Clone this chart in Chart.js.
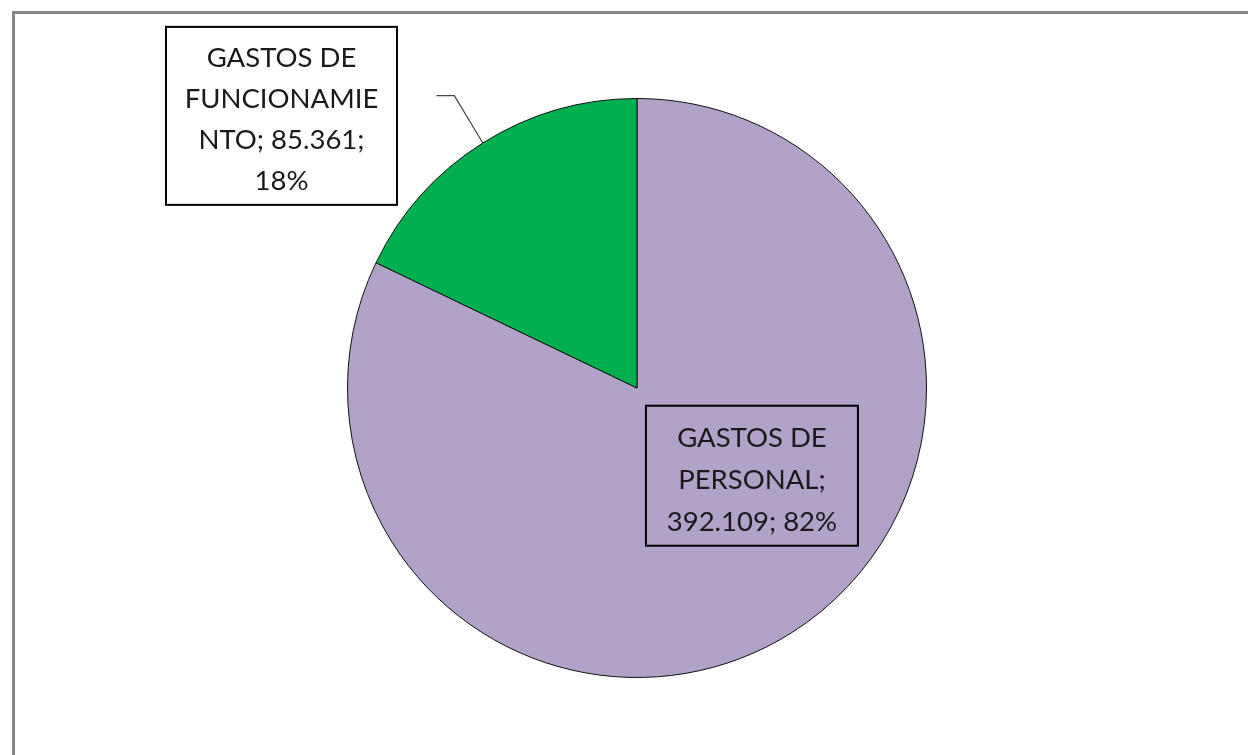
<!DOCTYPE html>
<html>
<head>
<meta charset="utf-8">
<script src="https://cdn.jsdelivr.net/npm/chart.js@4"></script>
<style>
  html, body { margin: 0; padding: 0; background: #fff; }
  #wrap { width: 1248px; height: 755px; position: relative; }
</style>
</head>
<body>
<div id="wrap"><canvas id="pieChart" width="1248" height="755"></canvas></div>
<script>
const categories = ["GASTOS DE PERSONAL", "GASTOS DE FUNCIONAMIENTO"];
const values = [392109, 85361];
const colors = ["#B1A2C8", "#00B050"];
// how Excel wrapped each data label
const labelLines = [
    ["GASTOS DE", "PERSONAL;", "392.109; 82%"],
    ["GASTOS DE", "FUNCIONAMIE", "NTO; 85.361;", "18%"]
];

const FONT = '27.5px Lato, "Open Sans", sans-serif';

// outer chart frame, like the Excel chart area border
const framePlugin = {
    id: "frame",
    beforeDraw(chart) {
        const ctx = chart.ctx;
        ctx.save();
        ctx.fillStyle = "#fff";
        ctx.fillRect(0, 0, chart.width, chart.height);
        ctx.strokeStyle = "#878787";
        ctx.lineWidth = 3;
        ctx.strokeRect(13.5, 12.5, chart.width + 20, chart.height + 20);
        ctx.restore();
    }
};

function drawBox(ctx, lines, cx, cy, w, lh) {
    const h = lines.length * lh + 14;
    const x = cx - w / 2, y = cy - h / 2;
    ctx.lineWidth = 2;
    ctx.strokeStyle = "#000";
    ctx.strokeRect(x, y, w, h);
    ctx.fillStyle = "#1a1a1a";
    ctx.textAlign = "center";
    ctx.textBaseline = "middle";
    lines.forEach((t, i) => ctx.fillText(t, cx, y + 11 + lh * (i + 0.5)));
}

// data labels with boxes; the small slice gets a leader line
const labelPlugin = {
    id: "boxLabels",
    afterDatasetsDraw(chart) {
        const ctx = chart.ctx;
        const arcs = chart.getDatasetMeta(0).data;
        ctx.save();
        ctx.font = FONT;

        const a0 = arcs[0];
        const r0 = a0.outerRadius;
        drawBox(ctx, labelLines[0], a0.x + r0 * 0.397, a0.y + r0 * 0.303, 212, 42);

        const a1 = arcs[1];
        const r1 = a1.outerRadius;
        const mid = (a1.startAngle + a1.endAngle) / 2;
        const ex = a1.x + Math.cos(mid) * r1, ey = a1.y + Math.sin(mid) * r1;
        ctx.strokeStyle = "#444";
        ctx.lineWidth = 1.2;
        ctx.beginPath();
        ctx.moveTo(ex, ey);
        ctx.lineTo(a1.x - r1 * 0.631, a1.y - r1 * 1.01);
        ctx.lineTo(a1.x - r1 * 0.693, a1.y - r1 * 1.01);
        ctx.stroke();
        drawBox(ctx, labelLines[1], a1.x - r1 * 1.228, a1.y - r1 * 0.94, 231, 41);
        ctx.restore();
    }
};

new Chart(document.getElementById("pieChart").getContext("2d"), {
    type: "pie",
    data: {
        labels: categories,
        datasets: [{
            data: values,
            backgroundColor: colors,
            borderColor: "#111",
            borderWidth: 1
        }]
    },
    options: {
        responsive: false,
        animation: false,
        layout: { padding: { top: 98, bottom: 77, left: 237, right: 211 } },
        plugins: { legend: { display: false }, tooltip: { enabled: false } }
    },
    plugins: [framePlugin, labelPlugin]
});
</script>
</body>
</html>
